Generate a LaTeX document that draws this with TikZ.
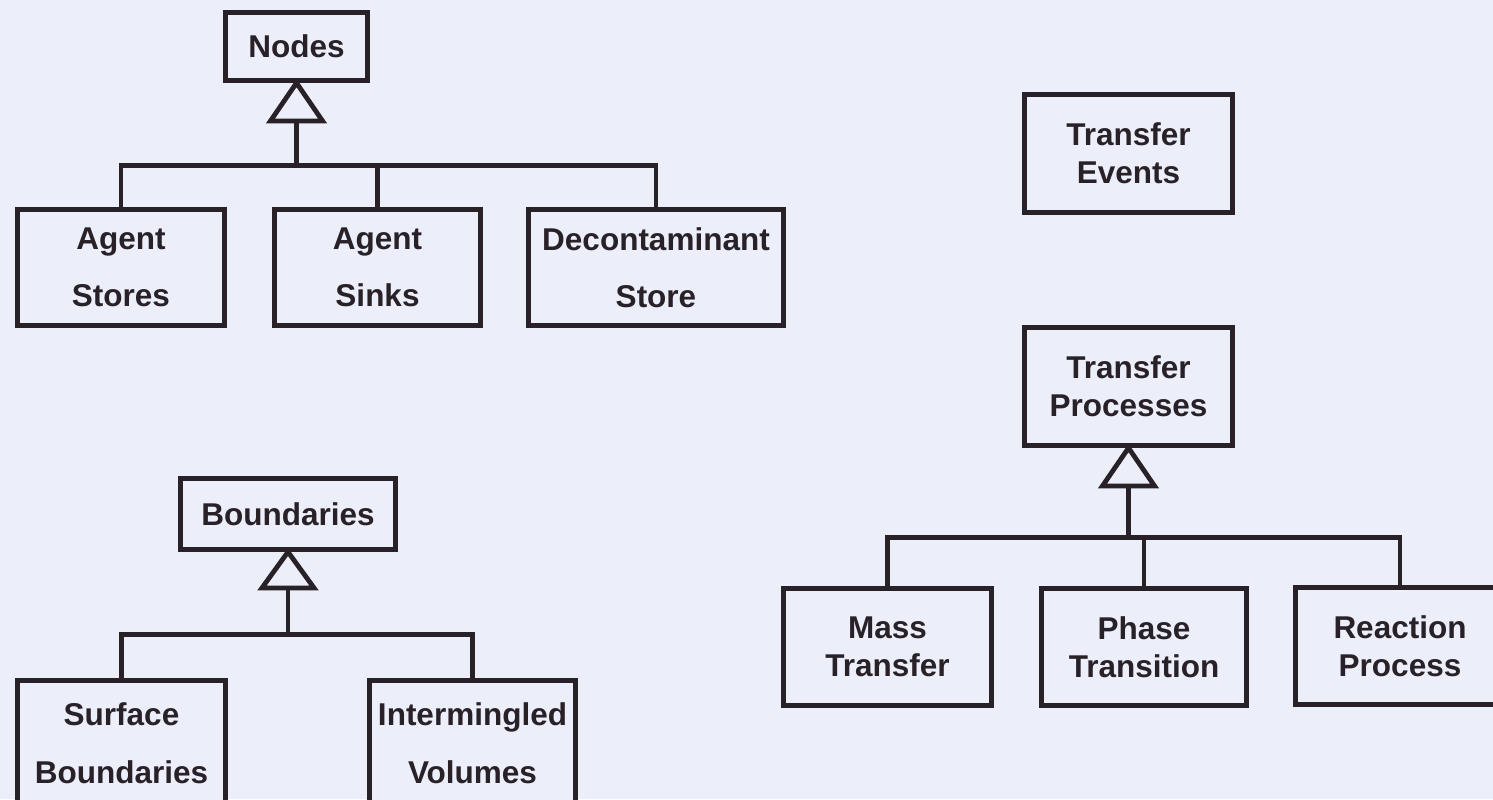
\documentclass[tikz,border=0pt]{standalone}
\usepackage{fontspec}
\setmainfont{Liberation Sans}
\usetikzlibrary{calc}
\definecolor{bg}{RGB}{236,238,250}
\definecolor{ink}{RGB}{40,33,40}
\begin{document}
\begin{tikzpicture}[x=0.5pt,y=-0.5pt,
  box/.style={draw=ink, line width=2.4pt, fill=bg, text=ink, align=center, inner sep=0pt,
    font=\fontsize{15.75}{28.75}\selectfont\bfseries},
  tbox/.style={box, font=\fontsize{15.75}{19}\selectfont\bfseries},
  conn/.style={draw=ink, line width=2.4pt, line join=miter},
  tri/.style={draw=ink, line width=2.4pt, fill=bg, line join=miter}]
\useasboundingbox (0,0) rectangle (1493,799);
\fill[bg] (0,0) rectangle (1493,799);
\clip (0,0) rectangle (1493,799);

% Nodes hierarchy
\node[box, minimum width=71pt, minimum height=34pt] (nodes) at (296.5,46.5) {Nodes};
\node[box, minimum width=103.5pt, minimum height=58pt] (stores) at (121,267.5) {Agent\\Stores};
\node[box, minimum width=103pt, minimum height=58pt] (sinks) at (377.5,267.5) {Agent\\Sinks};
\node[box, minimum width=127.5pt, minimum height=58pt] (decont) at (656,267.5) {Decontaminant\\Store};

% Transfer events / processes
\node[tbox, minimum width=104pt, minimum height=59pt] (events) at (1128.5,153.5) {Transfer\\Events};
\node[tbox, minimum width=104pt, minimum height=59pt] (procs) at (1128.5,386.5) {Transfer\\Processes};
\node[tbox, minimum width=104pt, minimum height=58.5pt] (mass) at (887.5,647) {Mass\\Transfer};
\node[tbox, minimum width=102.5pt, minimum height=58.5pt] (phase) at (1144,647) {Phase\\Transition};
\node[tbox, minimum width=104.5pt, minimum height=58.5pt] (react) at (1400,646) {Reaction\\Process};

% Boundaries hierarchy
\node[box, minimum width=107.5pt, minimum height=35.5pt] (bounds) at (288,514) {Boundaries};
\node[box, minimum width=104pt, minimum height=62.5pt] (surf) at (121.5,743) {Surface\\Boundaries};
\node[box, minimum width=103pt, minimum height=62.5pt] (inter) at (472.5,743) {Intermingled\\Volumes};

% Generalisation: Nodes
\draw[tri] (nodes.south) -- ++(-26,38) coordinate (ntl) -- ++(52,0) -- cycle;
\coordinate (ntb) at ($(nodes.south)+(0,38)$);
\coordinate (nbar) at ($(nodes.south)+(0,82.5)$);
\draw[conn] (ntb) -- (nbar);
\draw[conn] (stores.north) |- (nbar) -| (decont.north);
\draw[conn] (sinks.north) -- (sinks.north |- nbar);

% Generalisation: Transfer Processes
\draw[tri] (procs.south) -- ++(-26,38) -- ++(52,0) -- cycle;
\coordinate (ptb) at ($(procs.south)+(0,38)$);
\coordinate (pbar) at ($(procs.south)+(0,89.5)$);
\draw[conn] (ptb) -- (pbar);
\draw[conn] (mass.north) |- (pbar) -| (react.north);
\draw[conn] (phase.north) -- (phase.north |- pbar);

% Generalisation: Boundaries
\draw[tri] (bounds.south) -- ++(-26,36) -- ++(52,0) -- cycle;
\coordinate (btb) at ($(bounds.south)+(0,36)$);
\coordinate (bbar) at ($(bounds.south)+(0,82.5)$);
\draw[conn] (btb) -- (bbar);
\draw[conn] (surf.north) |- (bbar) -| (inter.north);
\end{tikzpicture}
\end{document}
